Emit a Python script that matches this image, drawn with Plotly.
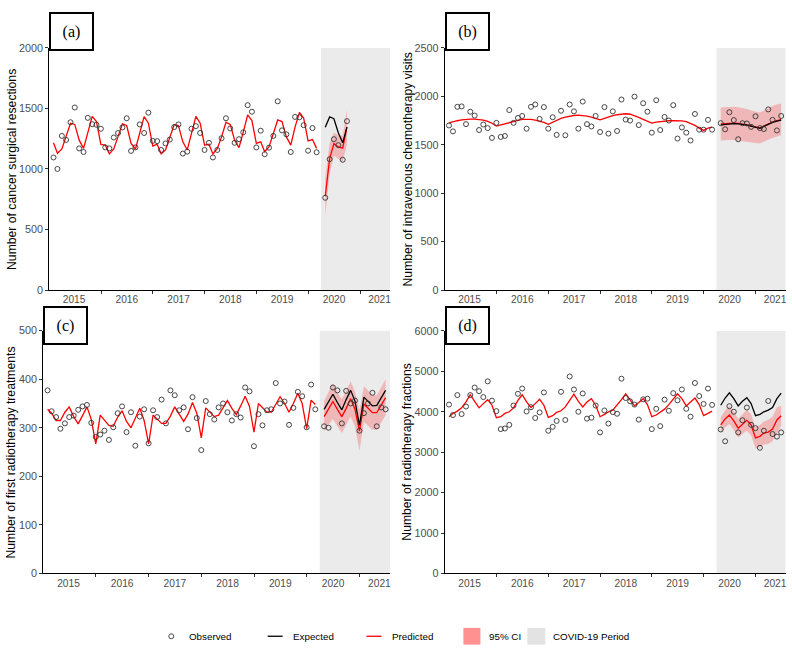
import pandas as pd
import plotly.graph_objects as go

ME = pd.offsets.MonthEnd()
pre_dates = pd.date_range("2015-01-31", periods=62, freq=ME)
covid_dates_a = pd.date_range("2020-04-30", periods=6, freq=ME)
covid_dates = pd.date_range("2020-04-30", periods=15, freq=ME)

YEAR_LABELS = ["2015", "2016", "2017", "2018", "2019", "2020", "2021"]
LABEL_DATES = ["2015-06-25", "2016-07-01", "2017-07-01", "2018-07-01", "2019-07-01", "2020-07-01", "2021-05-18"]
BOUNDARY_DATES = ["2016-01-01", "2017-01-01", "2018-01-01", "2019-01-01", "2020-01-01", "2021-01-01"]
X_RANGE = ["2015-01-01", "2021-08-01"]
COVID_START = "2020-03-31"

# ---------------- (a) cancer surgical resections ----------------
a_obs_pre = [1095, 1000, 1273, 1240, 1386, 1508, 1170, 1140, 1422, 1370, 1365, 1332,
             1178, 1170, 1260, 1297, 1343, 1419, 1149, 1178, 1368, 1297, 1465, 1232,
             1230, 1157, 1211, 1243, 1346, 1368, 1127, 1143, 1332, 1354, 1297, 1157,
             1216, 1095, 1157, 1254, 1419, 1335, 1216, 1246, 1303, 1527, 1473, 1178,
             1316, 1122, 1176, 1273, 1559, 1319, 1286, 1140, 1430, 1427, 1362, 1151,
             1338, 1138]
a_pred_pre = [1216, 1130, 1165, 1265, 1378, 1368, 1238, 1170, 1297, 1435, 1392, 1203,
              1197, 1124, 1165, 1265, 1373, 1359, 1211, 1165, 1297, 1432, 1378, 1189,
              1205, 1124, 1157, 1265, 1368, 1359, 1224, 1157, 1305, 1435, 1378, 1197,
              1205, 1124, 1170, 1265, 1386, 1368, 1238, 1176, 1305, 1446, 1400, 1211,
              1224, 1143, 1184, 1292, 1405, 1392, 1265, 1197, 1346, 1468, 1419, 1232,
              1243, 1170]
a_obs_cov = [762, 1081, 1246, 1197, 1076, 1395]
a_exp_cov = [1345, 1430, 1415, 1300, 1216, 1346]
a_pred_cov = [775, 1085, 1210, 1182, 1172, 1346]
a_lo_cov = [610, 960, 1110, 1085, 1060, 1200]
a_hi_cov = [920, 1215, 1300, 1280, 1275, 1490]

# ---------------- (b) intravenous chemotherapy visits ----------------
b_obs_pre = [1699, 1638, 1892, 1896, 1713, 1841, 1801, 1652, 1709, 1672, 1571, 1726,
             1581, 1591, 1858, 1726, 1777, 1797, 1666, 1892, 1916, 1767, 1889, 1666,
             1784, 1602, 1851, 1598, 1916, 1845, 1666, 1946, 1713, 1689, 1797, 1632,
             1889, 1615, 1845, 1642, 1967, 1760, 1750, 1997, 1703, 1929, 1841, 1625,
             1960, 1652, 1787, 1750, 1909, 1564, 1679, 1625, 1544, 1818, 1656, 1656,
             1757, 1656]
b_pred_pre = [1726, 1738, 1748, 1756, 1762, 1765, 1765, 1762, 1755, 1742, 1722, 1692,
              1705, 1720, 1733, 1743, 1752, 1762, 1765, 1762, 1755, 1745, 1732, 1712,
              1735, 1755, 1772, 1785, 1795, 1802, 1805, 1802, 1795, 1785, 1772, 1757,
              1772, 1788, 1800, 1810, 1817, 1820, 1815, 1800, 1782, 1762, 1742, 1723,
              1733, 1740, 1745, 1748, 1750, 1750, 1746, 1738, 1722, 1700, 1672, 1648,
              1672, 1682]
b_obs_cov = [1723, 1660, 1836, 1755, 1557, 1722, 1720, 1685, 1794, 1672, 1662, 1865, 1757, 1648, 1797]
b_exp_cov = [1705, 1712, 1716, 1718, 1716, 1712, 1703, 1692, 1680, 1670, 1690, 1712, 1730, 1745, 1755]
b_pred_cov = [1715, 1720, 1723, 1723, 1720, 1714, 1705, 1694, 1682, 1673, 1692, 1715, 1733, 1748, 1760]
b_lo_cov = [1545, 1548, 1550, 1550, 1548, 1543, 1535, 1525, 1518, 1512, 1530, 1552, 1570, 1585, 1597]
b_hi_cov = [1885, 1890, 1893, 1892, 1888, 1880, 1868, 1855, 1842, 1832, 1855, 1880, 1900, 1915, 1925]

# ---------------- (c) first radiotherapy treatments ----------------
c_obs_pre = [377, 334, 322, 298, 309, 322, 325, 337, 344, 347, 310, 281,
             286, 294, 275, 301, 330, 344, 291, 332, 263, 323, 338, 268,
             336, 322, 358, 309, 377, 367, 336, 342, 297, 363, 320, 254,
             355, 328, 317, 342, 350, 332, 315, 328, 321, 383, 375, 262,
             328, 305, 336, 338, 392, 350, 354, 306, 341, 374, 365, 301,
             389, 338]
c_pred_pre = [338, 330, 315, 315, 332, 343, 323, 308, 325, 343, 317, 267,
              326, 315, 305, 303, 322, 335, 313, 300, 318, 340, 315, 267,
              326, 318, 309, 309, 324, 343, 327, 313, 328, 352, 330, 279,
              341, 332, 323, 326, 340, 356, 340, 327, 345, 365, 344, 291,
              350, 342, 332, 332, 348, 364, 350, 332, 350, 371, 350, 298,
              357, 348]
c_obs_cov = [303, 300, 383, 377, 309, 376, 350, 356, 294, 330, 350, 372, 303, 342, 338]
c_exp_cov = [338, 355, 369, 352, 337, 358, 377, 355, 305, 363, 355, 345, 346, 362, 377]
c_pred_cov = [323, 340, 354, 338, 323, 340, 360, 338, 293, 349, 340, 331, 331, 348, 362]
c_lo_cov = [293, 306, 318, 303, 289, 305, 323, 302, 252, 312, 304, 296, 296, 312, 326]
c_hi_cov = [355, 374, 391, 373, 358, 376, 396, 374, 336, 386, 377, 367, 367, 384, 400]

# ---------------- (d) radiotherapy fractions ----------------
d_obs_pre = [4178, 3919, 4413, 3943, 4129, 4413, 4599, 4510, 4364, 4753, 4275, 4016,
             3571, 3587, 3676, 4154, 4445, 4575, 4008, 4113, 3846, 3984, 4478, 3530,
             3627, 3773, 4494, 3797, 4874, 4551, 4000, 4453, 3830, 3854, 4154, 3490,
             4032, 3708, 3992, 3951, 4818, 4340, 4259, 4178, 3806, 4308, 4324, 3571,
             4073, 3644, 4300, 4024, 4461, 4283, 4551, 4073, 3878, 4712, 4389, 4194,
             4575, 4170]
d_pred_pre = [3878, 3959, 4016, 4097, 4243, 4421, 4259, 4097, 4202, 4300, 4162, 3854,
              3878, 3959, 4000, 4097, 4283, 4421, 4243, 4105, 4202, 4308, 4162, 3862,
              3903, 3984, 4024, 4121, 4283, 4437, 4259, 4121, 4243, 4324, 4162, 3878,
              3935, 4000, 4040, 4162, 4300, 4445, 4283, 4146, 4227, 4324, 4178, 3878,
              3919, 3984, 4065, 4178, 4324, 4445, 4324, 4146, 4243, 4340, 4178, 3903,
              3959, 4016]
d_obs_cov = [3563, 3271, 4138, 4000, 3490, 3789, 4105, 3676, 3595, 3109, 3530, 4267, 3449, 3385, 3490]
d_exp_cov = [4162, 4340, 4470, 4324, 4146, 4259, 4348, 4202, 3903, 3935, 4000, 4040, 4105, 4324, 4461]
d_pred_cov = [3676, 3822, 3919, 3773, 3595, 3692, 3789, 3676, 3352, 3393, 3474, 3498, 3571, 3797, 3903]
d_lo_cov = [3480, 3620, 3700, 3550, 3360, 3450, 3530, 3420, 3090, 3120, 3190, 3200, 3270, 3480, 3650]
d_hi_cov = [3870, 4030, 4140, 4000, 3830, 3940, 4050, 3940, 3620, 3670, 3760, 3800, 3880, 4110, 4150]

PANELS = [
    dict(tag="(a)", title="Number of cancer surgical resections", ymax=2000, dy=500,
         obs_pre=a_obs_pre, pred_pre=a_pred_pre, cdates=covid_dates_a,
         obs_cov=a_obs_cov, exp_cov=a_exp_cov, pred_cov=a_pred_cov, lo=a_lo_cov, hi=a_hi_cov),
    dict(tag="(b)", title="Number of intravenous chemotherapy visits", ymax=2500, dy=500,
         obs_pre=b_obs_pre, pred_pre=b_pred_pre, cdates=covid_dates,
         obs_cov=b_obs_cov, exp_cov=b_exp_cov, pred_cov=b_pred_cov, lo=b_lo_cov, hi=b_hi_cov),
    dict(tag="(c)", title="Number of first radiotherapy treatments", ymax=500, dy=100,
         obs_pre=c_obs_pre, pred_pre=c_pred_pre, cdates=covid_dates,
         obs_cov=c_obs_cov, exp_cov=c_exp_cov, pred_cov=c_pred_cov, lo=c_lo_cov, hi=c_hi_cov),
    dict(tag="(d)", title="Number of radiotherapy fractions", ymax=6000, dy=1000,
         obs_pre=d_obs_pre, pred_pre=d_pred_pre, cdates=covid_dates,
         obs_cov=d_obs_cov, exp_cov=d_exp_cov, pred_cov=d_pred_cov, lo=d_lo_cov, hi=d_hi_cov),
]

W, H = 792, 656
def px(x):
    return x / W
def py(y):
    return 1 - y / H

# plot areas in pixels: (left, right, top, bottom)
AREAS = [(49.3, 390.7, 42.7, 289.3), (445.3, 786.7, 42.7, 289.3),
         (43.3, 390.7, 330.7, 578.0), (445.3, 786.7, 331.0, 578.0)]
TAGBOX = [(71.5, 25.5), (468, 25.5), (65.5, 325.5), (468, 325.5)]
YTITLE_X = [12, 408, 11.5, 408]

SANS = "Liberation Sans, Arial, sans-serif"
SERIF = "Liberation Serif, Times New Roman, serif"
TICKGRAY = "#4D4D4D"
RED = "#FF0000"
BAND = "rgba(255,0,0,0.22)"
COVID_GREY = "#EBEBEB"

fig = go.Figure()
annotations = []
shapes = []

for i, p in enumerate(PANELS):
    n = "" if i == 0 else str(i + 1)
    xa, ya = "x" + n, "y" + n
    cd = list(p["cdates"])
    fig.add_trace(go.Scatter(x=cd + cd[::-1], y=p["hi"] + p["lo"][::-1], xaxis=xa, yaxis=ya,
                             fill="toself", fillcolor=BAND, line=dict(width=0),
                             mode="lines", hoverinfo="skip", showlegend=False))
    fig.add_trace(go.Scatter(x=pre_dates, y=p["pred_pre"], xaxis=xa, yaxis=ya, mode="lines",
                             line=dict(color=RED, width=1.3), showlegend=False))
    fig.add_trace(go.Scatter(x=cd, y=p["pred_cov"], xaxis=xa, yaxis=ya, mode="lines",
                             line=dict(color=RED, width=1.3), showlegend=False))
    fig.add_trace(go.Scatter(x=cd, y=p["exp_cov"], xaxis=xa, yaxis=ya, mode="lines",
                             line=dict(color="black", width=1.3), showlegend=False))
    fig.add_trace(go.Scatter(x=list(pre_dates) + cd, y=p["obs_pre"] + p["obs_cov"], xaxis=xa, yaxis=ya,
                             mode="markers",
                             marker=dict(symbol="circle-open", size=5, color="#333333", line=dict(width=0.9)),
                             showlegend=False))

    l, r, t, b = AREAS[i]
    xkey = "xaxis" + n
    ykey = "yaxis" + n
    fig.update_layout(**{
        xkey: dict(domain=[px(l), px(r)], anchor=ya, type="date", range=X_RANGE,
                   showline=True, linecolor="black", linewidth=1, showgrid=False, zeroline=False,
                   tickmode="array", tickvals=LABEL_DATES, ticktext=YEAR_LABELS,
                   ticks="outside", ticklen=0, tickcolor="rgba(0,0,0,0)",
                   tickfont=dict(family=SANS, size=10.2, color=TICKGRAY),
                   minor=dict(tickmode="array", tickvals=BOUNDARY_DATES, ticks="outside",
                              ticklen=3, tickwidth=1, tickcolor="#333333", showgrid=False)),
        ykey: dict(domain=[py(b), py(t)], anchor=xa, range=[0, p["ymax"]],
                   showline=True, linecolor="black", linewidth=1, showgrid=False, zeroline=False,
                   tickmode="linear", tick0=0, dtick=p["dy"], ticks="outside", ticklen=3,
                   tickcolor="#333333", tickwidth=1,
                   tickfont=dict(family=SANS, size=10.8, color=TICKGRAY)),
    })
    shapes.append(dict(type="rect", xref=xa, yref=ya + " domain", x0=COVID_START, x1=X_RANGE[1],
                       y0=0, y1=1, fillcolor=COVID_GREY, line=dict(width=0), layer="below"))
    annotations.append(dict(xref="paper", yref="paper", x=px(YTITLE_X[i]), y=py((t + b) / 2),
                            text=p["title"], textangle=-90, showarrow=False,
                            font=dict(family=SANS, size=12.2, color="black"),
                            xanchor="center", yanchor="middle"))
    cx, cy = TAGBOX[i]
    annotations.append(dict(xref="paper", yref="paper", x=px(cx), y=py(cy), text=p["tag"],
                            showarrow=False, font=dict(family=SERIF, size=16, color="black"),
                            xanchor="center", yanchor="middle", width=41, height=35,
                            bordercolor="black", borderwidth=2, borderpad=0, bgcolor="white"))

# ---- manual legend ----
LEG_Y = 642
shapes.append(dict(type="circle", xref="paper", yref="paper", x0=px(169), x1=px(174),
                   y0=py(LEG_Y + 2.5), y1=py(LEG_Y - 2.5), line=dict(color="#333333", width=0.9)))
shapes.append(dict(type="line", xref="paper", yref="paper", x0=px(268), x1=px(283),
                   y0=py(LEG_Y), y1=py(LEG_Y), line=dict(color="black", width=1.3)))
shapes.append(dict(type="line", xref="paper", yref="paper", x0=px(367), x1=px(382),
                   y0=py(LEG_Y), y1=py(LEG_Y), line=dict(color=RED, width=1.3)))
shapes.append(dict(type="rect", xref="paper", yref="paper", x0=px(464), x1=px(481),
                   y0=py(LEG_Y + 8.5), y1=py(LEG_Y - 8.5), fillcolor="#FF9191", line=dict(width=0)))
shapes.append(dict(type="rect", xref="paper", yref="paper", x0=px(528), x1=px(546),
                   y0=py(LEG_Y + 8.5), y1=py(LEG_Y - 8.5), fillcolor="#E3E3E3", line=dict(width=0)))
for xx, txt in [(187, "Observed"), (291, "Expected"), (390, "Predicted"), (488, "95% CI"), (552, "COVID-19 Period")]:
    annotations.append(dict(xref="paper", yref="paper", x=px(xx), y=py(LEG_Y), text=txt,
                            showarrow=False, xanchor="left", yanchor="middle",
                            font=dict(family=SANS, size=9.8, color="black")))

fig.update_layout(width=W, height=H, margin=dict(l=0, r=0, t=0, b=0),
                  paper_bgcolor="white", plot_bgcolor="white", showlegend=False,
                  shapes=shapes, annotations=annotations)

fig.write_html("out.html", config={"displayModeBar": False},
               post_script="document.body.style.margin='0';")
